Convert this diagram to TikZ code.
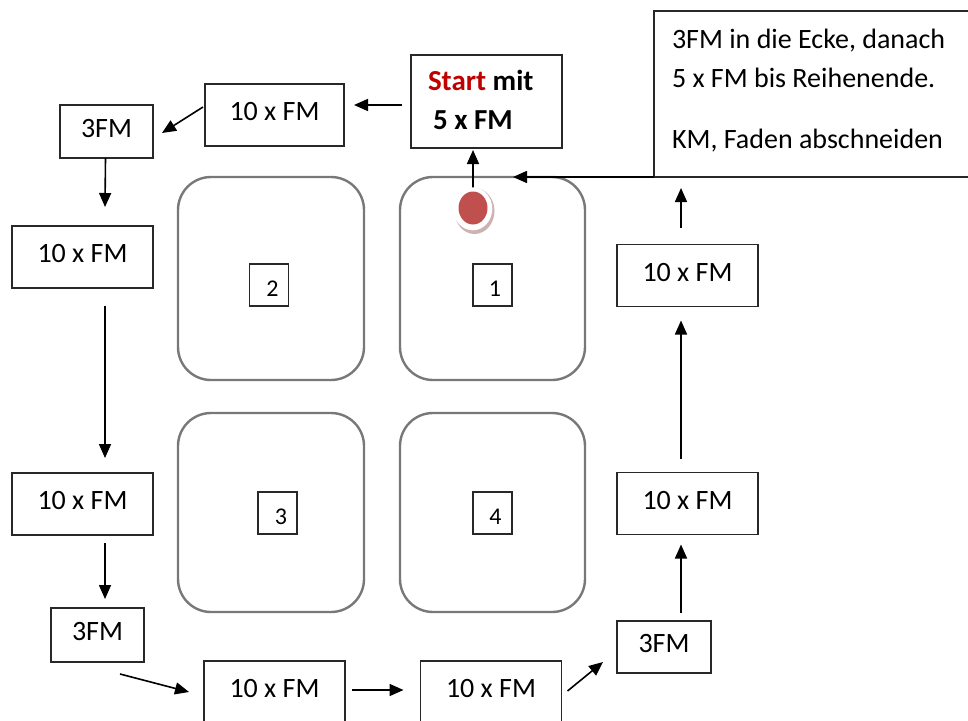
\documentclass[tikz,border=0pt]{standalone}
\usepackage{fontspec}
\setmainfont{Carlito}
\usetikzlibrary{arrows.meta,shapes.geometric}
\definecolor{boxline}{RGB}{40,40,40}
\definecolor{sqline}{RGB}{120,120,120}
\definecolor{dotred}{RGB}{192,80,77}
\definecolor{startred}{RGB}{192,0,0}
\definecolor{shadecol}{RGB}{205,178,178}
\begin{document}
\begin{tikzpicture}[x=1pt,y=-1pt,
  every node/.style={outer sep=0pt},
  fm/.style={draw=boxline, line width=1.8pt, fill=white, font=\fontsize{28}{32}\selectfont, inner sep=0pt, text height=17pt, text depth=6pt},
  tenbox/.style={fm, minimum width=141pt, minimum height=62pt},
  threebox/.style={fm, minimum width=93pt, minimum height=53pt},
  sq/.style={draw=sqline, line width=2.4pt, rounded corners=33pt, inner sep=0pt},
  numbox/.style={draw=boxline, line width=1.6pt, minimum width=39pt, minimum height=42pt, inner sep=0pt, text height=23pt, text depth=0pt, font=\fontsize{24}{28}\selectfont},
  arr/.style={line width=1.6pt, -{Triangle[length=14pt,width=12pt]}},
  txt/.style={inner sep=0pt, anchor=base west, font=\fontsize{28}{32}\selectfont}
]
\useasboundingbox (0,0) rectangle (968,720);
\clip (0,0) rectangle (968,720);

% rounded squares
\node[sq, minimum width=185pt, minimum height=203pt] (sq1) at (492.5,278.5) {};
\node[sq, minimum width=186pt, minimum height=203pt] (sq2) at (271,278.5) {};
\node[sq, minimum width=186pt, minimum height=199pt] (sq3) at (271,512.5) {};
\node[sq, minimum width=185pt, minimum height=199pt] (sq4) at (492.5,512.5) {};
\node[numbox] (n1) at (492.5,285) {\hspace*{5pt}1};
\node[numbox] (n2) at (269,285) {\hspace*{7pt}2};
\node[numbox] (n3) at (277.5,513) {\hspace*{7pt}3};
\node[numbox] (n4) at (492.5,513) {\hspace*{6pt}4};

% start box
\node[draw=boxline, line width=1.8pt, minimum width=151pt, minimum height=93pt, inner sep=0pt] (start) at (486.5,101.5) {};
\node[txt, font=\fontsize{29}{32}\selectfont\bfseries] (st1) at (428,90) {\textcolor{startred}{Start} mit};
\node[txt, font=\fontsize{29}{32}\selectfont\bfseries] (st2) at (433,129) {5 x FM};

% boxes
\node[tenbox, minimum width=139pt] (top10) at (274.5,115) {10 x FM};
\node[threebox] (tl3) at (106.5,131.5) {3FM};
\node[tenbox] (l1) at (82.5,257) {10 x FM};
\node[tenbox] (l2) at (82.5,504) {10 x FM};
\node[threebox, minimum height=54pt] (bl3) at (97.5,635) {3FM};
\node[tenbox] (b1) at (274.5,692) {10 x FM};
\node[tenbox] (b2) at (491,692) {10 x FM};
\node[threebox, minimum width=94pt, minimum height=52pt] (br3) at (664,647) {3FM};
\node[tenbox] (r2) at (687.5,503.5) {10 x FM};
\node[tenbox] (r1) at (687.5,275.5) {10 x FM};

% text box
\node[draw=boxline, line width=1.8pt, fill=white, minimum width=326pt, minimum height=166pt, inner sep=0pt] (tb) at (817,94) {};
\node[txt] (tb1) at (672,48) {3FM in die Ecke, danach};
\node[txt] (tb2) at (672,87) {5 x FM bis Reihenende.};
\node[txt] (tb3) at (672,148) {KM, Faden abschneiden};

% arrows
\draw[arr] ([shift={(-9,3.5)}]start.west) -- ([shift={(10,-10)}]top10.east);
\draw[arr] ([shift={(-2,-8)}]top10.west) -- ([shift={(9,1.5)}]tl3.east);
\draw[arr] ([shift={(-1,0)}]tl3.south) -- ([shift={(22.5,-19)}]l1.north);
\draw[arr] ([shift={(22.5,18)}]l1.south) -- ([shift={(22.5,-15)}]l2.north);
\draw[arr] ([shift={(22.5,8)}]l2.south) -- ([shift={(7.5,-9)}]bl3.north);
\draw[arr] ([shift={(22.5,12)}]bl3.south) -- ([shift={(-15,0)}]b1.west);
\draw[arr] ([shift={(7,-2)}]b1.east) -- ([shift={(-17,-2)}]b2.west);
\draw[arr] ([shift={(6,-1)}]b2.east) -- ([shift={(-14,15)}]br3.west);
\draw[arr] ([shift={(17,-8)}]br3.north) -- ([shift={(-6.5,10)}]r2.south);
\draw[arr] ([shift={(-6.5,-14)}]r2.north) -- ([shift={(-6.5,14)}]r1.south);
\draw[arr] ([shift={(-6.5,-17)}]r1.north) -- ([shift={(27,11)}]tb.south west);
\draw[arr] (tb.south west) -- ([shift={(20.5,0)}]sq1.north);

% red dot
\node[ellipse, minimum width=29pt, minimum height=33pt, inner sep=0pt] (dot) at (473,208) {};
\draw[arr] (dot.north) -- ([shift={(-13.5,2)}]start.south);
\fill[shadecol] (474.5,211) ellipse [x radius=20, y radius=23];
\fill[white] (472.8,208.8) ellipse [x radius=19.5, y radius=21.5];
\fill[dotred] (dot.center) ellipse [x radius=14.5, y radius=16.5];
\end{tikzpicture}
\end{document}
